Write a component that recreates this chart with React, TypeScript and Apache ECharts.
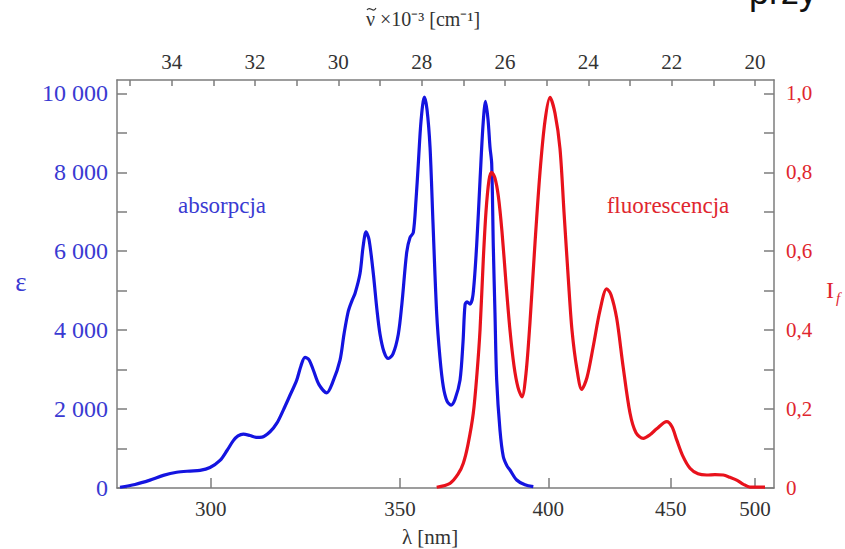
import React, { useEffect, useRef } from 'react';
import * as echarts from 'echarts';

// wavenumber (×10^-3 cm^-1) and molar absorptivity of the absorption band
const nuAbs = [35.239, 34.879, 34.519, 34.2, 33.878, 33.559, 33.319, 33.079, 32.839, 32.671, 32.52, 32.407, 32.28, 32.119, 31.975, 31.831, 31.639, 31.471, 31.32, 31.159, 30.998, 30.895, 30.799, 30.703, 30.6, 30.463, 30.278, 30.127, 29.959, 29.863, 29.76, 29.671, 29.599, 29.479, 29.407, 29.335, 29.263, 29.16, 29.071, 28.999, 28.903, 28.8, 28.687, 28.56, 28.471, 28.359, 28.279, 28.2, 28.135, 28.08, 28.015, 27.936, 27.872, 27.799, 27.727, 27.639, 27.56, 27.48, 27.391, 27.295, 27.199, 27.079, 27.007, 26.959, 26.911, 26.839, 26.767, 26.679, 26.599, 26.527, 26.468, 26.408, 26.36, 26.319, 26.28, 26.24, 26.199, 26.12, 26.04, 25.952, 25.88, 25.719, 25.52, 25.32];
const epsAbs = [20, 90, 200, 320, 400, 430, 445, 520, 700, 950, 1200, 1320, 1367, 1330, 1285, 1290, 1425, 1650, 1975, 2350, 2734, 3100, 3309, 3250, 2990, 2620, 2413, 2700, 3241, 3900, 4480, 4750, 4929, 5435, 6100, 6489, 6300, 5435, 4500, 3899, 3450, 3283, 3400, 3899, 4700, 5967, 6347, 6473, 7300, 8220, 9300, 9906, 9600, 8641, 6700, 4423, 3300, 2566, 2200, 2101, 2250, 2734, 3700, 4641, 4720, 4660, 4900, 6160, 7797, 9200, 9800, 9350, 8641, 8220, 6108, 4430, 2734, 1468, 792, 560, 456, 203, 80, 33];

// wavenumber and relative fluorescence intensity
const nuFl = [27.639, 27.319, 27.127, 27.0, 26.888, 26.76, 26.672, 26.599, 26.52, 26.456, 26.384, 26.319, 26.24, 26.16, 26.072, 25.976, 25.88, 25.784, 25.688, 25.592, 25.496, 25.4, 25.28, 25.16, 25.04, 24.92, 24.8, 24.68, 24.584, 24.48, 24.392, 24.272, 24.159, 24.032, 23.88, 23.72, 23.559, 23.456, 23.319, 23.168, 23.0, 22.856, 22.681, 22.52, 22.359, 22.119, 21.992, 21.879, 21.728, 21.56, 21.368, 21.159, 20.96, 20.761, 20.6, 20.439, 20.288, 20.12, 19.76];
const ifFl = [0.002, 0.012, 0.035, 0.063, 0.11, 0.19, 0.29, 0.4, 0.58, 0.7, 0.78, 0.8, 0.785, 0.74, 0.65, 0.52, 0.4, 0.31, 0.255, 0.231, 0.29, 0.42, 0.62, 0.8, 0.93, 0.99, 0.95, 0.86, 0.7, 0.53, 0.4, 0.3, 0.25, 0.28, 0.36, 0.45, 0.505, 0.49, 0.43, 0.31, 0.19, 0.14, 0.126, 0.135, 0.15, 0.168, 0.155, 0.122, 0.08, 0.05, 0.036, 0.033, 0.034, 0.033, 0.027, 0.02, 0.01, 0.002, 0.002];

// axes
const nuTicks = [20, 21, 22, 23, 24, 25, 26, 27, 28, 29, 30, 31, 32, 33, 34, 35];
const nuLabels = [20, 22, 24, 26, 28, 30, 32, 34];
const lambdaLabels = [300, 350, 400, 450, 500];
const lambdaTickNu = [33.06, 28.52, 24.96, 22.02, 20.0];
const epsTicks = [0, 1000, 2000, 3000, 4000, 5000, 6000, 7000, 8000, 9000, 10000];
const epsLabels = [0, 2000, 4000, 6000, 8000, 10000];
const ifTicks = [0, 0.1, 0.2, 0.3, 0.4, 0.5, 0.6, 0.7, 0.8, 0.9, 1.0];
const ifLabels = [0, 0.2, 0.4, 0.6, 0.8, 1.0];

const NU_MIN = 19.544;
const NU_MAX = 35.311;
const EPS_MAX = 10340;

const BLUE = '#1414e0';
const RED = '#e8121c';
const BLUE_TXT = '#3a3ad2';
const RED_TXT = '#e0262e';
const AXIS = '#7c7c7c';
const SERIF = '"Liberation Serif", "Times New Roman", serif';

export default function App() {
  const ref = useRef<HTMLDivElement>(null);
  useEffect(() => {
    const chart = echarts.init(ref.current!, null, { renderer: 'svg' });
    const axisLine = { show: true, onZero: false, lineStyle: { color: AXIS, width: 1.5 } };
    const lambdaOf = (v: number) => {
      const i = lambdaTickNu.findIndex((t) => Math.abs(t - v) < 1e-6);
      return i >= 0 ? String(lambdaLabels[i]) : '';
    };
    const option: any = {
      animation: false,
      backgroundColor: '#ffffff',
      grid: { left: 117, right: 71, top: 80, bottom: 61, containLabel: false },
      xAxis: [
        {
          type: 'value', position: 'bottom', min: NU_MIN, max: NU_MAX, inverse: true,
          axisLine,
          axisTick: { show: true, inside: true, length: 10, customValues: lambdaTickNu, lineStyle: { color: AXIS, width: 1.5 } },
          axisLabel: {
            customValues: lambdaTickNu, margin: 10, color: '#333', fontSize: 21, fontFamily: SERIF,
            formatter: (v: number) => lambdaOf(v),
          },
          splitLine: { show: false },
        },
        {
          type: 'value', position: 'top', min: NU_MIN, max: NU_MAX, inverse: true,
          axisLine,
          axisTick: { show: true, inside: true, length: 6, customValues: nuTicks, lineStyle: { color: AXIS, width: 1.5 } },
          axisLabel: {
            customValues: nuLabels, margin: 8, color: '#333', fontSize: 21, fontFamily: SERIF,
            formatter: (v: number) => String(Math.round(v)),
          },
          splitLine: { show: false },
        },
      ],
      yAxis: [
        {
          type: 'value', position: 'left', min: 0, max: EPS_MAX,
          axisLine,
          axisTick: { show: true, inside: true, length: 10, customValues: epsTicks, lineStyle: { color: AXIS, width: 1.5 } },
          axisLabel: {
            customValues: epsLabels, margin: 9, color: BLUE_TXT, fontSize: 24, fontFamily: SERIF,
            formatter: (v: number) => (v >= 1000 ? `${Math.floor(v / 1000)} ${String(v % 1000).padStart(3, '0')}` : String(v)),
          },
          splitLine: { show: false },
        },
        {
          type: 'value', position: 'right', min: 0, max: EPS_MAX / 10000,
          axisLine,
          axisTick: { show: true, inside: true, length: 10, customValues: ifTicks, lineStyle: { color: AXIS, width: 1.5 } },
          axisLabel: {
            customValues: ifLabels, margin: 12, color: RED_TXT, fontSize: 21, fontFamily: SERIF,
            formatter: (v: number) => (v === 0 ? '0' : v.toFixed(1).replace('.', ',')),
          },
          splitLine: { show: false },
        },
      ],
      series: [
        {
          type: 'line', name: 'absorpcja', xAxisIndex: 0, yAxisIndex: 0,
          data: nuAbs.map((n, i) => [n, epsAbs[i]]),
          smooth: 0.3, showSymbol: false, symbol: 'none',
          lineStyle: { color: BLUE, width: 3.2 },
        },
        {
          type: 'line', name: 'fluorescencja', xAxisIndex: 0, yAxisIndex: 1,
          data: nuFl.map((n, i) => [n, ifFl[i]]),
          smooth: 0.3, showSymbol: false, symbol: 'none',
          lineStyle: { color: RED, width: 3.2 },
        },
      ],
      graphic: [
        { type: 'text', x: 222, y: 205, style: { text: 'absorpcja', fill: BLUE_TXT, font: `23px ${SERIF}`, align: 'center', verticalAlign: 'middle' } },
        { type: 'text', x: 668, y: 205, style: { text: 'fluorescencja', fill: RED_TXT, font: `23px ${SERIF}`, align: 'center', verticalAlign: 'middle' } },
        { type: 'text', x: 21, y: 282, style: { text: 'ε', fill: BLUE_TXT, font: `27px ${SERIF}`, align: 'center', verticalAlign: 'middle' } },
        { type: 'text', x: 826, y: 290, style: { text: 'I', fill: RED_TXT, font: `24px ${SERIF}`, align: 'left', verticalAlign: 'middle' } },
        { type: 'text', x: 836, y: 298, style: { text: 'f', fill: RED_TXT, font: `italic 15px ${SERIF}`, align: 'left', verticalAlign: 'middle' } },
        { type: 'text', x: 430, y: 537, style: { text: 'λ [nm]', fill: '#333', font: `21px ${SERIF}`, align: 'center', verticalAlign: 'middle' } },
        { type: 'text', x: 366, y: 19, style: { text: 'ν ×10⁻³ [cm⁻¹]', fill: '#333', font: `20px ${SERIF}`, align: 'left', verticalAlign: 'middle' } },
        {
          type: 'bezierCurve',
          shape: { x1: 367, y1: 10, cpx1: 370, cpy1: 5, cpx2: 373, cpy2: 14, x2: 376, y2: 8 },
          style: { stroke: '#333', lineWidth: 1.1, fill: 'none' },
        },
        { type: 'text', x: 749, y: -9, style: { text: 'przy', fill: '#111', font: `36px "Liberation Sans", Arial, sans-serif`, align: 'left', verticalAlign: 'middle' } },
      ],
    };
    chart.setOption(option);
    return () => chart.dispose();
  }, []);
  return <div ref={ref} style={{ position: 'fixed', left: 0, top: 0, width: 845, height: 549 }} />;
}
